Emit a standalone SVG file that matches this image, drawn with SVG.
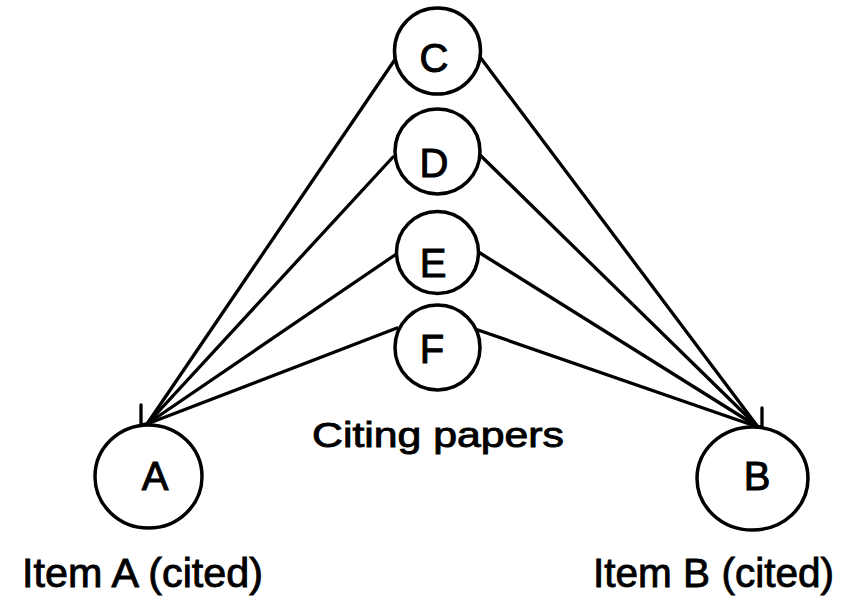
<svg xmlns="http://www.w3.org/2000/svg" width="850" height="599" viewBox="0 0 850 599">
<style>
.node{fill:#fff;stroke:#000;stroke-width:3.5}
.lbl{font-family:"Liberation Sans",Arial,sans-serif;font-size:40px;fill:#000;stroke:#000;stroke-width:1;text-anchor:middle}
.cap{font-family:"Liberation Sans",Arial,sans-serif;font-size:41px;fill:#000;stroke:#000;stroke-width:0.9}
.edge{fill:none;stroke:#000;stroke-width:3.3;stroke-linecap:round;stroke-linejoin:round}
</style>
<rect width="850" height="599" fill="#fff"/>
<g id="connectors">
<path class="edge" d="M396,58 L147,424"/>
<path class="edge" d="M393,157 L147,424"/>
<path class="edge" d="M395,255 L147,424"/>
<path class="edge" d="M397,328 L147,424"/>
<path class="edge" d="M480,57 L758,427"/>
<path class="edge" d="M480,155 L758,427"/>
<path class="edge" d="M480,253 L758,427"/>
<path class="edge" d="M478,330 L758,427"/>
<path class="edge" d="M141,405 L141,425 L150,423"/>
<path class="edge" d="M762,408 L762,427 L754,427"/>
</g>
<g id="node-C">
<circle class="node" cx="437.5" cy="51" r="43"/>
<text class="lbl" x="434" y="72">C</text>
</g>
<g id="node-D">
<circle class="node" cx="437.5" cy="151.5" r="42.5"/>
<text class="lbl" x="434" y="177">D</text>
</g>
<g id="node-E">
<circle class="node" cx="437.5" cy="252.5" r="41"/>
<text class="lbl" x="433" y="277">E</text>
</g>
<g id="node-F">
<circle class="node" cx="437.5" cy="347.5" r="42.5"/>
<text class="lbl" x="432" y="363">F</text>
</g>
<g id="node-A">
<ellipse class="node" cx="148.5" cy="476.5" rx="53.5" ry="51.5"/>
<text class="lbl" x="155" y="490">A</text>
</g>
<g id="node-B">
<ellipse class="node" cx="752.5" cy="478.5" rx="55.5" ry="51.5"/>
<text class="lbl" x="757" y="490">B</text>
</g>
<text class="cap" x="312" y="447" style="font-size:35px" textLength="252" lengthAdjust="spacingAndGlyphs">Citing papers</text>
<text class="cap" x="22" y="587" textLength="241" lengthAdjust="spacingAndGlyphs">Item A (cited)</text>
<text class="cap" x="593" y="587" textLength="241" lengthAdjust="spacingAndGlyphs">Item B (cited)</text>
</svg>
